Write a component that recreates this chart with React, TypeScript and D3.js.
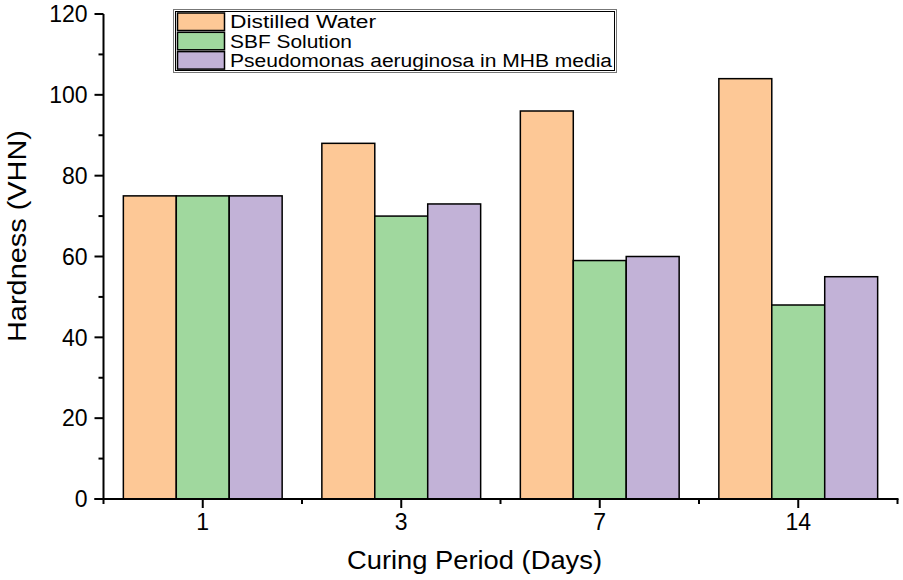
import React from "react";
import * as d3 from "d3";

const categories = ["1", "3", "7", "14"];
const seriesNames = ["Distilled Water", "SBF Solution", "Pseudomonas aeruginosa in MHB media"];
const distilledWater = [75, 88, 96, 104];
const sbfSolution = [75, 70, 59, 48];
const pseudomonas = [75, 73, 60, 55];
const yTicks = [0, 20, 40, 60, 80, 100, 120];
const yMinorTicks = [10, 30, 50, 70, 90, 110];
const colors = ["#FDC896", "#A0D89E", "#C2B2D7"];

const W = 903, H = 580;
const left = 103.5, right = 897.5, top = 14, bottom = 499;

export default function App() {
  const series = [distilledWater, sbfSolution, pseudomonas];
  const x = d3.scaleBand().domain(categories).range([left, right]).paddingInner(0).paddingOuter(0);
  const bw = x.bandwidth();
  const groupPad = bw * 0.1;
  const xInner = d3.scaleBand().domain(seriesNames).range([groupPad, bw - groupPad]).padding(0);
  const y = d3.scaleLinear().domain([0, 120]).range([bottom, top]);
  const font = "Liberation Sans, Arial, sans-serif";
  const boundaries = [left, ...categories.slice(1).map((c) => x(c)!), right];

  return (
    <svg width={W} height={H} style={{ position: "absolute", left: 0, top: 0, background: "#fff" }}>
      {/* bars */}
      {categories.map((c, i) => (
        <g key={c}>
          {series.map((s, j) => (
            <rect
              key={j}
              x={x(c)! + xInner(seriesNames[j])!}
              y={y(s[i])}
              width={xInner.bandwidth()}
              height={y(0) - y(s[i])}
              fill={colors[j]}
              stroke="#000"
              strokeWidth={1.5}
            />
          ))}
        </g>
      ))}
      {/* y axis */}
      <line x1={left} x2={left} y1={top} y2={bottom} stroke="#000" strokeWidth={2} />
      {yTicks.map((t) => (
        <g key={t}>
          <line x1={left - 9} x2={left} y1={y(t)} y2={y(t)} stroke="#000" strokeWidth={2} />
          <text x={left - 16} y={y(t)} dy="0.36em" textAnchor="end" fontFamily={font} fontSize={23}>
            {t}
          </text>
        </g>
      ))}
      {yMinorTicks.map((t) => (
        <line key={t} x1={left - 5} x2={left} y1={y(t)} y2={y(t)} stroke="#000" strokeWidth={2} />
      ))}
      {/* x axis */}
      <line x1={left - 9} x2={right + 1} y1={bottom} y2={bottom} stroke="#000" strokeWidth={2} />
      {categories.map((c) => (
        <g key={c}>
          <line x1={x(c)! + bw / 2} x2={x(c)! + bw / 2} y1={bottom} y2={bottom + 9} stroke="#000" strokeWidth={2} />
          <text x={x(c)! + bw / 2} y={bottom + 31} textAnchor="middle" fontFamily={font} fontSize={23}>
            {c}
          </text>
        </g>
      ))}
      {boundaries.map((b, i) => (
        <line key={i} x1={b} x2={b} y1={bottom} y2={bottom + 5} stroke="#000" strokeWidth={2} />
      ))}
      {/* axis titles */}
      <text x={347} y={569} fontFamily={font} fontSize={26} textLength={255} lengthAdjust="spacingAndGlyphs">
        Curing Period (Days)
      </text>
      <text
        transform={`translate(26, 342) rotate(-90)`}
        fontFamily={font}
        fontSize={26}
        textLength={212}
        lengthAdjust="spacingAndGlyphs"
      >
        Hardness (VHN)
      </text>
      {/* legend */}
      <g>
        <rect x={173.5} y={9.5} width={443} height={63} fill="#fff" stroke="#777" strokeWidth={1} />
        <rect x={175.5} y={11.5} width={439} height={59} fill="none" stroke="#000" strokeWidth={1} />
        {seriesNames.map((n, j) => (
          <g key={n}>
            <rect x={177.5} y={13 + j * 19.3} width={47} height={17.5} fill={colors[j]} stroke="#000" strokeWidth={1.5} />
            <text
              x={230}
              y={22 + j * 19.3}
              dy="0.36em"
              fontFamily={font}
              fontSize={18}
              textLength={[146, 122, 382][j]}
              lengthAdjust="spacingAndGlyphs"
            >
              {n}
            </text>
          </g>
        ))}
      </g>
    </svg>
  );
}
